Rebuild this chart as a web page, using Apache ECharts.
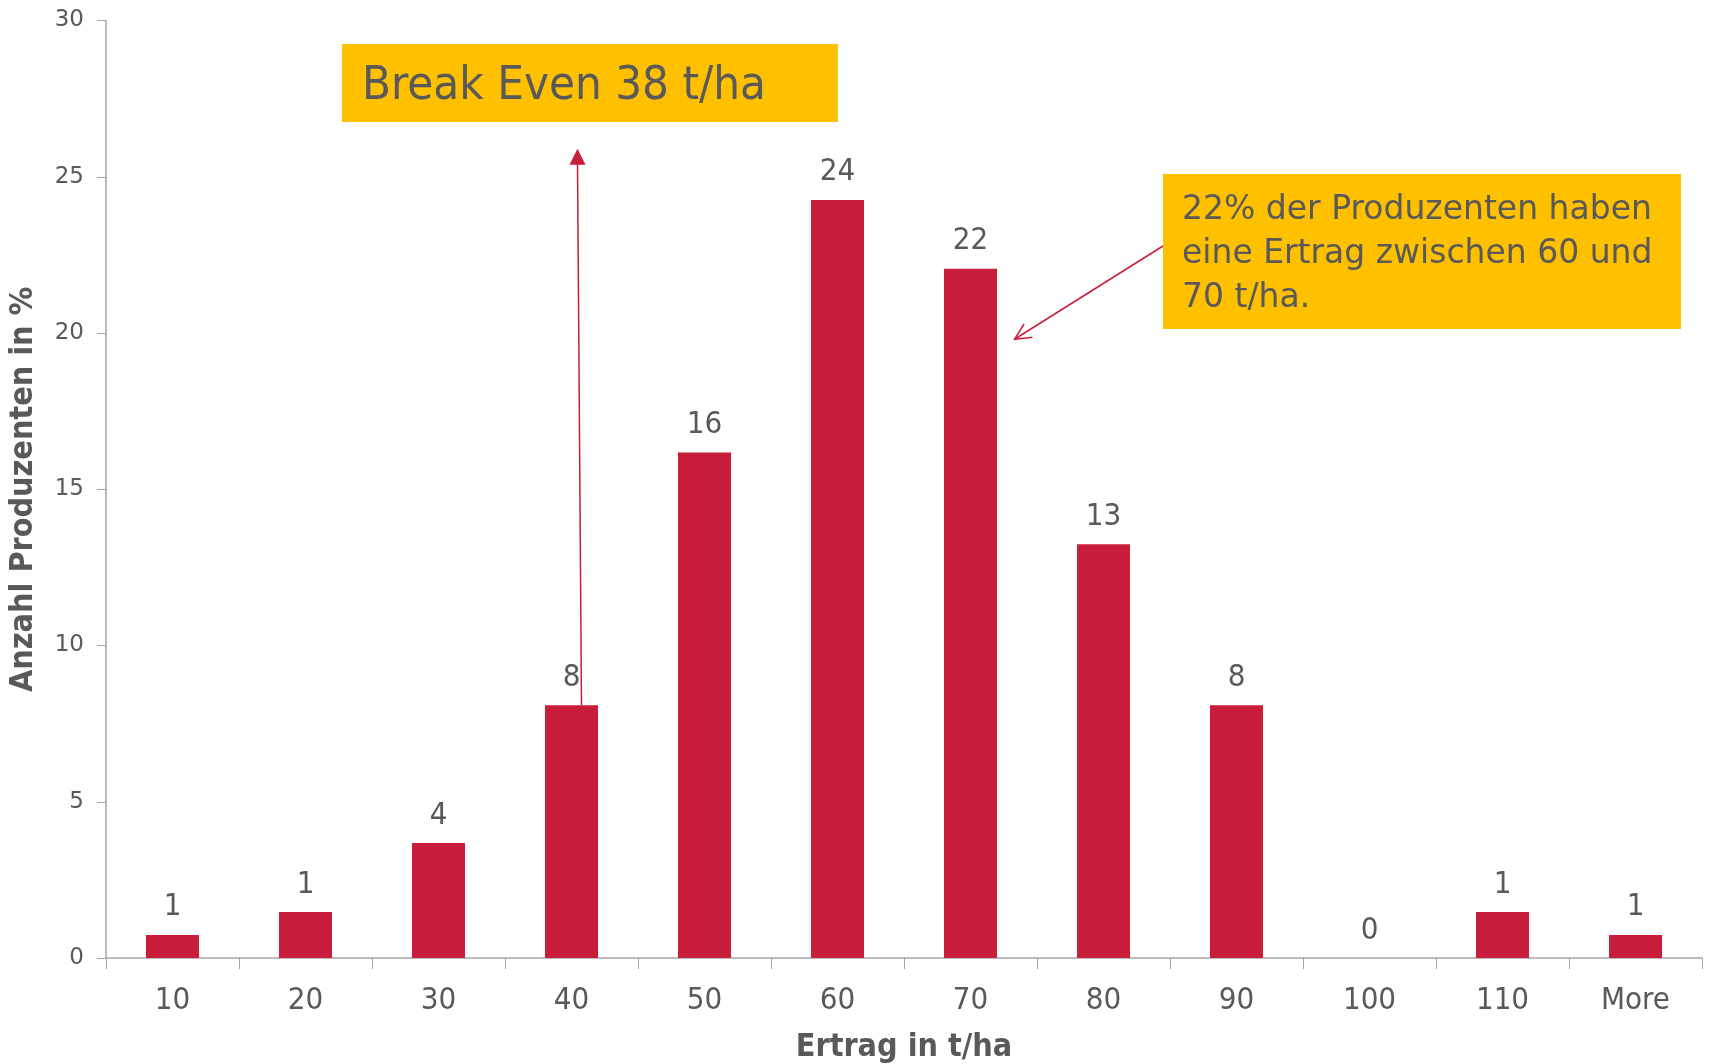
<!DOCTYPE html>
<html>
<head>
<meta charset="utf-8">
<script src="https://cdn.jsdelivr.net/npm/echarts@6/dist/echarts.min.js"></script>
<style>
	html, body { margin: 0; padding: 0; background: #fff; }
	#chart { width: 1709px; height: 1064px; }
</style>
</head>
<body>
<div id="chart"></div>
<script>
// 수확량 구간 (카테고리)
let yieldClasses = ['10', '20', '30', '40', '50', '60', '70', '80', '90', '100', '110', 'More'];
// 생산자 비율 (%)
let producerShare = [0.74, 1.47, 3.68, 8.09, 16.18, 24.26, 22.06, 13.24, 8.09, 0, 1.47, 0.74];
// y축 눈금
let yTicks = [0, 5, 10, 15, 20, 25, 30];

let fontMain = '"DejaVu Sans Condensed", "DejaVu Sans", sans-serif';
let fontWide = '"DejaVu Sans", sans-serif';
let textColor = '#595959';
let barColor = '#C81E3C';
let boxColor = '#FFC000';
let axisColor = '#A6A6A6';

let myChart = echarts.init(document.getElementById('chart'));

let option = {
	animation: false,
	grid: { left: 106, right: 7, top: 20.5, bottom: 106, outerBoundsMode: 'none', containLabel: false },
	xAxis: {
		type: 'category',
		data: yieldClasses,
		name: 'Ertrag in t/ha',
		nameLocation: 'middle',
		nameGap: 74,
		nameTextStyle: { fontFamily: fontMain, fontWeight: 'bold', fontSize: 32, color: textColor },
		axisLine: { lineStyle: { color: axisColor, width: 1.5 } },
		axisTick: { show: true, length: 11, lineStyle: { color: axisColor } },
		axisLabel: { margin: 27, fontFamily: fontMain, fontSize: 31, color: textColor }
	},
	yAxis: {
		type: 'value',
		min: yTicks[0],
		max: yTicks[yTicks.length - 1],
		interval: 5,
		name: 'Anzahl Produzenten in %',
		nameLocation: 'middle',
		nameGap: 66,
		nameTextStyle: { fontFamily: fontMain, fontWeight: 'bold', fontSize: 32, color: textColor },
		axisLine: { show: true, lineStyle: { color: axisColor, width: 1.5 } },
		axisTick: { show: true, length: 9, lineStyle: { color: axisColor } },
		splitLine: { show: false },
		axisLabel: { margin: 22, fontFamily: fontWide, fontSize: 23, color: textColor }
	},
	series: [
		{
			type: 'bar',
			data: producerShare,
			barWidth: 53,
			itemStyle: { color: barColor },
			label: {
				show: true,
				position: 'top',
				distance: 12,
				fontFamily: fontMain,
				fontSize: 31,
				color: textColor,
				formatter: function (p) { return Math.round(p.value); }
			}
		}
	]
};
myChart.setOption(option);

// 주석 (화살표와 박스)
function drawNotes() {
	// Break Even 화살표: 40 막대 위에서 위로
	let p0 = myChart.convertToPixel({ xAxisIndex: 0, yAxisIndex: 0 }, [3, producerShare[3]]);
	let p1 = myChart.convertToPixel({ xAxisIndex: 0, yAxisIndex: 0 }, [3, 25.9]);
	let ax0 = p0[0] + 10, ay0 = p0[1];
	let ax1 = p1[0] + 6, ay1 = p1[1];

	// 22% 화살표: 박스에서 70 막대 쪽으로
	let q = myChart.convertToPixel({ xAxisIndex: 0, yAxisIndex: 0 }, [6, 19.8]);
	let bx1 = q[0] + 44, by1 = q[1];
	let bx0 = 1163, by0 = 246;
	let ang = Math.atan2(by1 - by0, bx1 - bx0);
	let hl = 18, ha = 0.45;

	myChart.setOption({
		graphic: [
			{ type: 'line', shape: { x1: ax0, y1: ay0, x2: ax1, y2: ay1 + 14 },
				style: { stroke: barColor, lineWidth: 1.5 } },
			{ type: 'polygon', shape: { points: [[ax1, ay1], [ax1 - 8, ay1 + 16], [ax1 + 8, ay1 + 16]] },
				style: { fill: barColor } },
			{ type: 'line', shape: { x1: bx0, y1: by0, x2: bx1, y2: by1 },
				style: { stroke: barColor, lineWidth: 1.5 } },
			{ type: 'polyline', shape: { points: [
					[bx1 - hl * Math.cos(ang - ha), by1 - hl * Math.sin(ang - ha)],
					[bx1, by1],
					[bx1 - hl * Math.cos(ang + ha), by1 - hl * Math.sin(ang + ha)]
				] },
				style: { stroke: barColor, lineWidth: 1.5, fill: null } },
			{ type: 'rect', shape: { x: 342, y: 44, width: 496, height: 78 },
				style: { fill: boxColor } },
			{ type: 'text', x: 362, y: 87,
				style: { text: 'Break Even 38 t/ha', font: '47px ' + fontMain, fill: textColor,
					verticalAlign: 'middle' } },
			{ type: 'rect', shape: { x: 1163, y: 174, width: 518, height: 155 },
				style: { fill: boxColor } },
			{ type: 'text', x: 1182, y: 188,
				style: { text: '22% der Produzenten haben\neine Ertrag zwischen 60 und\n70 t/ha.',
					font: '33px ' + fontWide, fill: textColor, lineHeight: 44 } }
		]
	});
}
drawNotes();
</script>
</body>
</html>
